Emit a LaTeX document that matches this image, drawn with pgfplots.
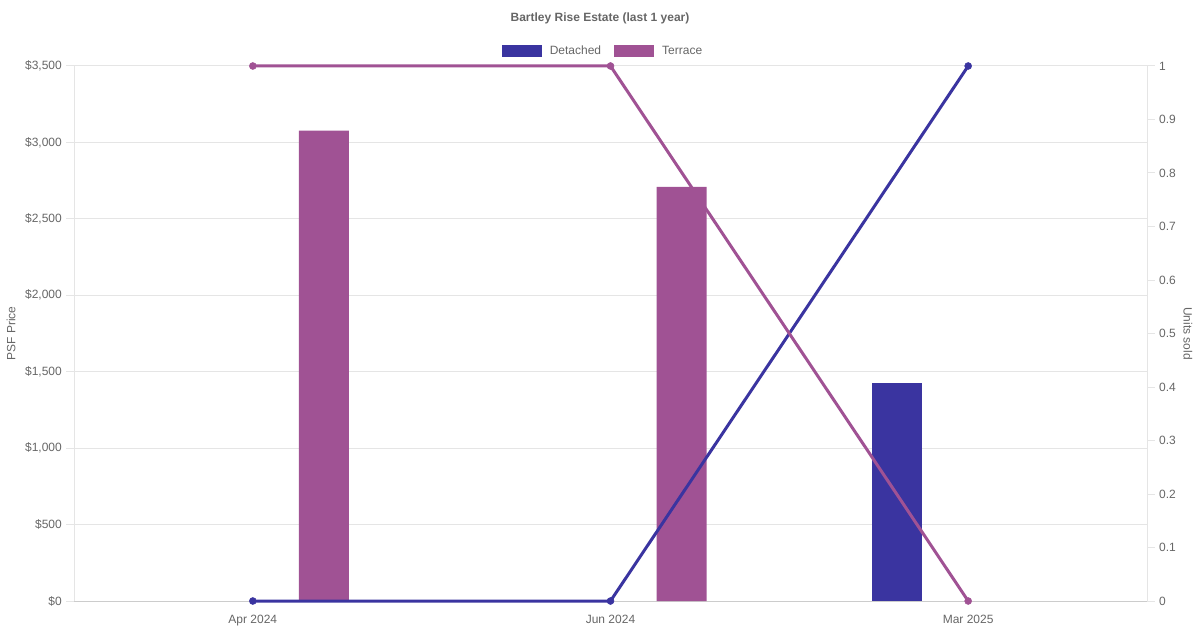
\documentclass[border=0pt]{standalone}
\usepackage{fontspec}
\setmainfont{Liberation Sans}
\usepackage{pgfplots}
\pgfplotsset{compat=1.18}
\definecolor{det}{HTML}{3A34A0}
\definecolor{ter}{HTML}{A05294}
\definecolor{txt}{HTML}{666666}
\definecolor{grd}{HTML}{E5E5E5}
\definecolor{axl}{HTML}{CCCCCC}
\begin{document}
\fontsize{12}{14}\selectfont
\begin{tikzpicture}[x=1pt,y=1pt]
\useasboundingbox (0,0) rectangle (1200,630);
\begin{axis}[
  at={(74pt,29pt)}, anchor=south west,
  scale only axis, width=1073pt, height=535pt,
  xmin=-0.5, xmax=2.5, ymin=0, ymax=3500,
  axis y line*=left, axis x line*=bottom,
  x axis line style={axl, line width=1pt, -},
  y axis line style={grd, line width=1pt, -},
  xtick={0,1,2}, xticklabels={Apr 2024,Jun 2024,Mar 2025},
  xtick style={draw=none},
  xticklabel style={yshift=-2pt},
  ytick={0,500,1000,1500,2000,2500,3000,3500},
  yticklabels={\$0,\$500,{\$1,000},{\$1,500},{\$2,000},{\$2,500},{\$3,000},{\$3,500}},
  ytick style={grd, line width=1pt},
  tick align=outside, major tick length=8pt,
  ymajorgrids, grid style={grd, line width=1pt},
  ticklabel style={font=\fontsize{12}{14}\selectfont, text=txt},
  /pgf/number format/assume math mode=true,
  ylabel={PSF Price},
  ylabel style={at={(axis description cs:-0.0587,0.5)}, anchor=center, font=\fontsize{12}{14}\selectfont, text=txt},
  title={\bfseries Bartley Rise Estate (last 1 year)},
  title style={at={(axis description cs:0.4902,1.0785)}, anchor=center, font=\fontsize{12}{14}\selectfont, text=txt},
  legend style={at={(axis description cs:0.4930,1.0280)}, anchor=center, draw=none, fill=none,
    font=\fontsize{12}{14}\selectfont, text=txt, inner sep=0pt,
    /tikz/every odd column/.append style={column sep=6pt},
    /tikz/every even column/.append style={column sep=11pt}},
  legend columns=2,
  clip=false,
]
\addplot[ybar, bar width=50pt, bar shift=-71pt, fill=det, draw=none,
  legend image code/.code={\fill[det] (0pt,-6pt) rectangle (40pt,6pt);}]
  coordinates {(2,1424)};
\addlegendentry{Detached}
\addplot[ybar, bar width=50pt, bar shift=71pt, fill=ter, draw=none,
  legend image code/.code={\fill[ter] (0pt,-6pt) rectangle (40pt,6pt);}]
  coordinates {(0,3077) (1,2710)};
\addlegendentry{Terrace}
\end{axis}
\begin{axis}[
  at={(74pt,29pt)}, anchor=south west,
  scale only axis, width=1073pt, height=535pt,
  xmin=-0.5, xmax=2.5, ymin=0, ymax=1,
  axis y line*=right, axis x line=none,
  y axis line style={grd, line width=1pt, -},
  ytick={0,0.1,0.2,0.3,0.4,0.5,0.6,0.7,0.8,0.9,1},
  yticklabels={0,0.1,0.2,0.3,0.4,0.5,0.6,0.7,0.8,0.9,1},
  ytick style={grd, line width=1pt},
  tick align=outside, major tick length=8pt,
  ticklabel style={font=\fontsize{12}{14}\selectfont, text=txt},
  /pgf/number format/assume math mode=true,
  ylabel={Units sold},
  ylabel style={at={(axis description cs:1.0382,0.5)}, anchor=center, rotate=180, font=\fontsize{12}{14}\selectfont, text=txt},
  clip=false,
]
\addplot[det, line width=3pt, mark=*, mark size=3.5pt, mark options={solid, fill=det, draw=det, line width=0.5pt}]
  coordinates {(0,0) (1,0) (2,1)};
\addplot[ter, line width=3pt, mark=*, mark size=3.5pt, mark options={solid, fill=ter, draw=ter, line width=0.5pt}]
  coordinates {(0,1) (1,1) (2,0)};
\end{axis}
\end{tikzpicture}
\end{document}
